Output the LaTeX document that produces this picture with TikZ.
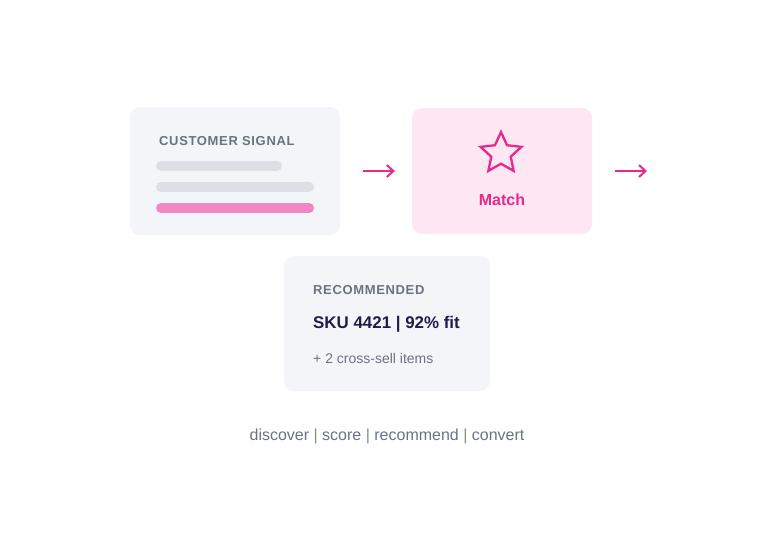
\documentclass[tikz,border=0pt]{standalone}
\usepackage{fontspec}
\setmainfont{Liberation Sans}
\newfontfamily\spacedfont[LetterSpace=5]{Liberation Sans}
\usepackage{tikz}
\usetikzlibrary{positioning,shapes.geometric,arrows.meta}
\definecolor{card}{HTML}{F3F5F9}
\definecolor{matchbg}{HTML}{FDE7F3}
\definecolor{accent}{HTML}{E8288A}
\definecolor{barpink}{HTML}{F088C3}
\definecolor{bargray}{HTML}{DCDFE6}
\definecolor{label}{HTML}{6B7280}
\definecolor{ink}{HTML}{1E1E48}
\definecolor{sep}{HTML}{7E907E}

\begin{document}
\begin{tikzpicture}[x=1pt,y=-1pt,
    cardbox/.style={fill=card,rounded corners=10pt,minimum width=#1,inner sep=0pt},
    heading/.style={anchor=base west,inner sep=0pt,text=label,font=\spacedfont\bfseries\fontsize{13}{15}\selectfont},
    bar/.style={line width=10pt,line cap=round},
    flow/.style={draw=accent,line width=2pt,-{Straight Barb[length=6.5pt,width=12pt]}}
  ]
  \useasboundingbox (0,0) rectangle (775,554);

  \path
  (235,171) node(signal) [cardbox=210pt,minimum height=128pt] {}
  (502,171) node(match) [cardbox=180pt,minimum height=126pt,fill=matchbg] {}
  (387,323.5) node(rec) [cardbox=206pt,minimum height=135pt] {}
  (647,171) coordinate(out)
  ;

  % signal card
  \node(signaltitle) [heading] at (159,145) {CUSTOMER SIGNAL};
  \draw[bar,bargray] (161,166) -- (277,166);
  \draw[bar,bargray] (161,187) -- (309,187);
  \draw[bar,barpink] (161,208) -- (309,208);

  % match card
  \node(star) [star,star points=5,star point ratio=2.1,minimum size=43pt,inner sep=0pt,
    draw=accent,line width=2.3pt] at (501,153.5) {};
  \node(matchtext) [anchor=base,inner sep=0pt,text=accent,font=\bfseries\fontsize{16}{18}\selectfont]
    at (502,205) {Match};

  % recommendation card
  \node(rectitle) [heading] at (313,294) {RECOMMENDED};
  \node(sku) [anchor=base west,inner sep=0pt,text=ink,font=\bfseries\fontsize{16.9}{19}\selectfont]
    at (313,328.5) {SKU 4421 | 92\% fit};
  \node(extra) [anchor=base west,inner sep=0pt,text=label,font=\fontsize{14}{16}\selectfont]
    at (313,363.5) {+ 2 cross-sell items};

  % footer
  \node(steps) [anchor=base,inner sep=0pt,text=label,font=\fontsize{16}{18}\selectfont] at (387,440.5)
    {discover \textcolor{sep}{|} score \textcolor{sep}{|} recommend \textcolor{sep}{|} convert};

  \draw[flow,shorten <=23pt,shorten >=17pt] (signal) -- (match);
  \draw[flow,shorten <=23pt] (match) -- (out);
\end{tikzpicture}
\end{document}
